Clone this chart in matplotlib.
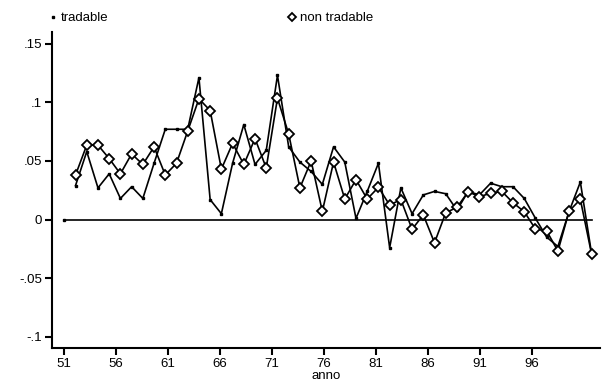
import numpy as np
import matplotlib
matplotlib.use("Agg")
import matplotlib.pyplot as plt
from matplotlib.lines import Line2D

plt.rcParams["font.family"] = ["Liberation Sans", "DejaVu Sans"]

# annual inflation rates, 1952-1998
years = np.arange(52, 99)
tradable = [0.029, 0.058, 0.027, 0.039, 0.018, 0.028, 0.018, 0.048, 0.077, 0.077,
            0.077, 0.121, 0.017, 0.005, 0.048, 0.081, 0.047, 0.059, 0.123, 0.062,
            0.049, 0.041, 0.030, 0.062, 0.049, 0.001, 0.024, 0.048, -0.024, 0.027,
            0.005, 0.021, 0.024, 0.022, 0.008, 0.024, 0.021, 0.031, 0.028, 0.028,
            0.018, 0.001, -0.015, -0.023, 0.007, 0.032, -0.029]
non_tradable = [0.038, 0.0635, 0.0635, 0.052, 0.039, 0.056, 0.047, 0.062, 0.038, 0.048,
                0.0755, 0.103, 0.093, 0.043, 0.065, 0.047, 0.069, 0.044, 0.1035, 0.073,
                0.027, 0.050, 0.007, 0.049, 0.0175, 0.034, 0.0175, 0.0275, 0.0124, 0.017,
                -0.0083, 0.004, -0.0198, 0.0058, 0.0104, 0.0237, 0.0195, 0.0224, 0.024, 0.0143,
                0.0067, -0.0081, -0.0098, -0.0269, 0.0072, 0.0172, -0.0294]

x_tick_labels = ["51", "56", "61", "66", "71", "76", "81", "86", "91", "96"]
y_ticks = [0.15, 0.1, 0.05, 0, -0.05, -0.1]
y_tick_labels = [".15", ".1", ".05", "0", "-.05", "-.1"]

# the tick grid of the original graph is slightly compressed
TICK_START = 51.0
TICK_STEP = 4.628

fig = plt.figure(figsize=(6.03, 3.85), dpi=100)
ax = fig.add_axes([0.0862, 0.096, 0.9088, 0.821])

# reference line at zero
ax.plot([51, 98], [0, 0], color="black", linewidth=1.2)
ax.plot([51], [0], marker="s", markersize=2, color="black")

ax.plot(years, tradable, color="black", linewidth=1.2,
        marker="s", markersize=2)
ax.plot(years, non_tradable, color="black", linewidth=1.2,
        marker="D", markersize=4.6, markerfacecolor="white", markeredgewidth=1.3)

ax.set_xlim(49.9, 98.75)
ax.set_ylim(-0.1096, 0.16)

ax.set_xticks(TICK_START + TICK_STEP * np.arange(len(x_tick_labels)))
ax.set_xticklabels(x_tick_labels)
ax.set_yticks(y_ticks)
ax.set_yticklabels(y_tick_labels)
ax.tick_params(direction="out", length=5, width=1.5, labelsize=9.5, pad=2)
ax.set_xlabel("anno", fontsize=9.5, labelpad=0.5)

for side in ["top", "right"]:
    ax.spines[side].set_visible(False)
for side in ["left", "bottom"]:
    ax.spines[side].set_linewidth(1.5)

handles = [
    Line2D([], [], color="black", marker="s", markersize=2, linestyle="none"),
    Line2D([], [], color="black", marker="D", markersize=4.2, markerfacecolor="white",
           markeredgewidth=1.3, linestyle="none"),
]
fig.legend(handles, ["tradable", "non tradable"], loc="upper left",
           bbox_to_anchor=(0.062, 0.999), ncol=2, frameon=False, fontsize=9.5,
           handlelength=0.6, handletextpad=0.3, columnspacing=13.6)

fig.savefig("out.png", dpi=100)
